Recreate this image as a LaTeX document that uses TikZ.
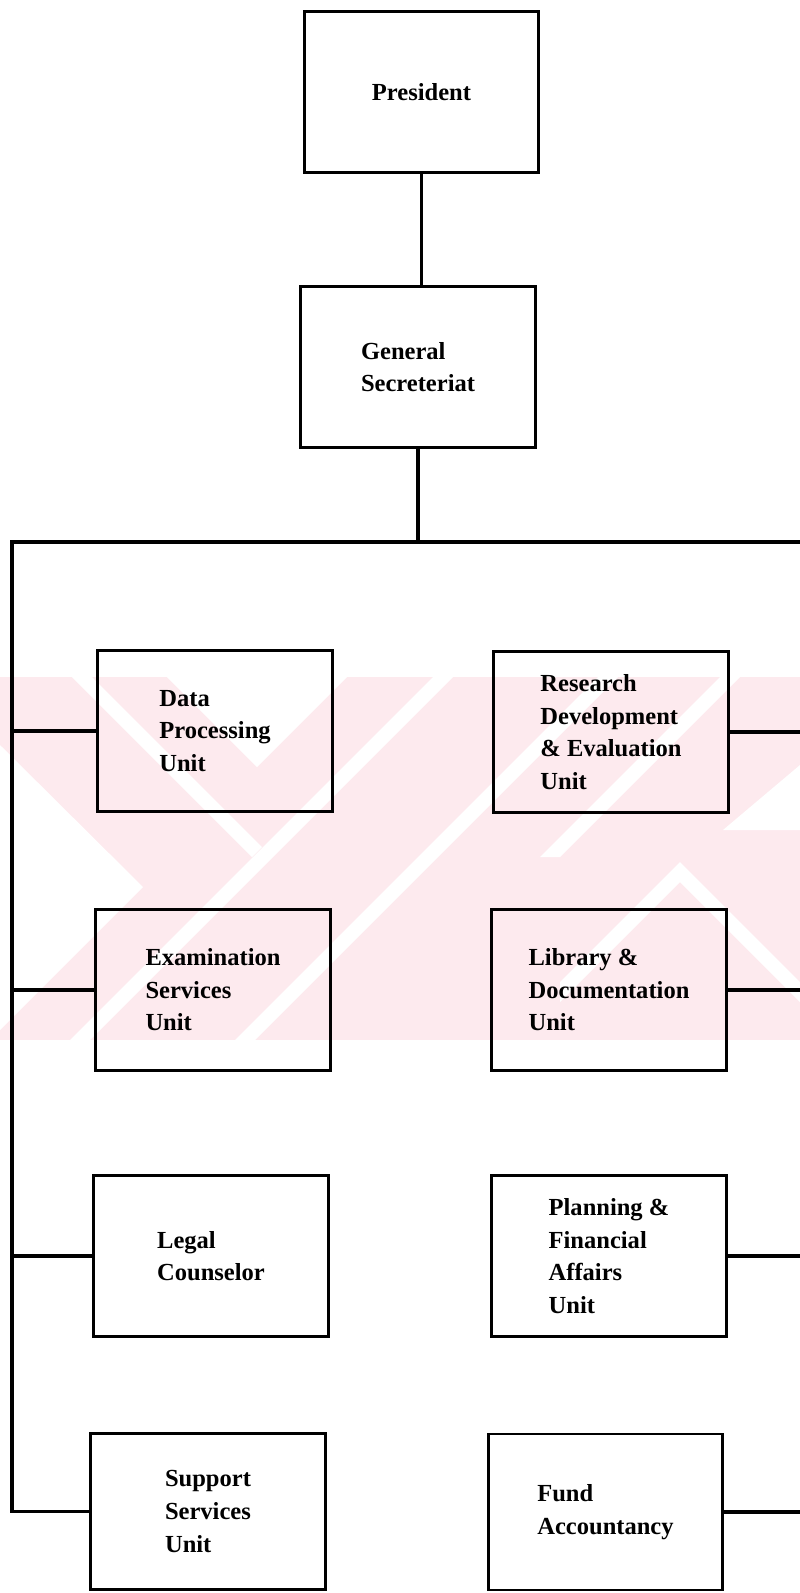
\documentclass[tikz,border=0pt]{standalone}
\usepackage{fontspec}
\setmainfont{Liberation Serif}
\begin{document}
\definecolor{wmpink}{RGB}{253,234,238}
\tikzset{
  unit/.style={draw, rectangle, line width=2.2pt, inner sep=0pt,
    minimum width=176pt, minimum height=121pt, align=left,
    font=\fontsize{18.4}{24.4}\selectfont\bfseries},
  conn/.style={draw=black, line width=2.6pt, line cap=rect},
  wmwhite/.style={fill=white, draw=none}
}
\begin{tikzpicture}[x=0.75pt, y=-0.75pt]
\useasboundingbox (0,0) rectangle (800,1593);
\fill[white] (0,0) rectangle (800,1593);

% faint background mark behind the middle rows
\begin{scope}
  \clip (0,677) rectangle (800,1040);
  \fill[wmpink] (0,677) rectangle (800,1040);
  % left wedge
  \fill[wmwhite] (0,745) -- (143,887) -- (0,1030) -- cycle;
  % outer gap of the left chevron
  \fill[wmwhite] (72,677) -- (92,677) -- (262,847) -- (252,857) -- cycle;
  % notch of the left chevron
  \fill[wmwhite] (167,677) -- (257,767) -- (347,677) -- cycle;
  % slanted gaps in the middle
  \fill[wmwhite] (433,677) -- (453,677) -- (90,1040) -- (70,1040) -- cycle;
  \fill[wmwhite] (598,677) -- (618,677) -- (255,1040) -- (235,1040) -- cycle;
  % right part
  \fill[wmwhite] (720,677) -- (740,677) -- (560,857) -- (540,857) -- cycle;
  \fill[wmwhite] (680,862) -- (800,982) -- (800,1002) -- (680,882) -- (560,1002) -- (560,982) -- cycle;
  \fill[wmwhite] (723,830) -- (800,830) -- (800,765) -- cycle;
\end{scope}

% boxes
\node[unit] (pres) at (421.5,92)  {President};
\node[unit] (gen)  at (418,367)   {General\\Secreteriat};
\node[unit] (dpu)  at (215,731)   {Data\\Processing\\Unit};
\node[unit] (rde)  at (611,732)   {Research\\Development\\\& Evaluation\\Unit};
\node[unit] (esu)  at (213,990)   {Examination\\Services\\Unit};
\node[unit] (ldu)  at (609,990)   {Library \&\\Documentation\\Unit};
\node[unit] (lc)   at (211,1256)  {Legal\\Counselor};
\node[unit] (pfa)  at (609,1256)  {Planning \&\\Financial\\Affairs\\Unit};
\node[unit, minimum height=117pt] (ssu) at (208,1511.5) {Support\\Services\\Unit};
\node[unit, minimum height=117pt] (fa)  at (605.5,1512) {Fund\\Accountancy};

% bus lines
\coordinate (busL) at (12,542);
\coordinate (busR) at (800,542);
\coordinate (edgeR) at (800,0);

\draw[conn] (pres.south) -- (pres.south |- gen.north);
\draw[conn] (gen.south) -- (gen.south |- busL);
\draw[conn] (busR) -- (busL) -- (busL |- ssu.west);

\foreach \n in {dpu,esu,lc,ssu}
  \draw[conn] (\n.west) -- (\n.west -| busL);
\foreach \n in {rde,ldu,pfa,fa}
  \draw[conn] (\n.east) -- (\n.east -| edgeR);
\end{tikzpicture}
\end{document}
